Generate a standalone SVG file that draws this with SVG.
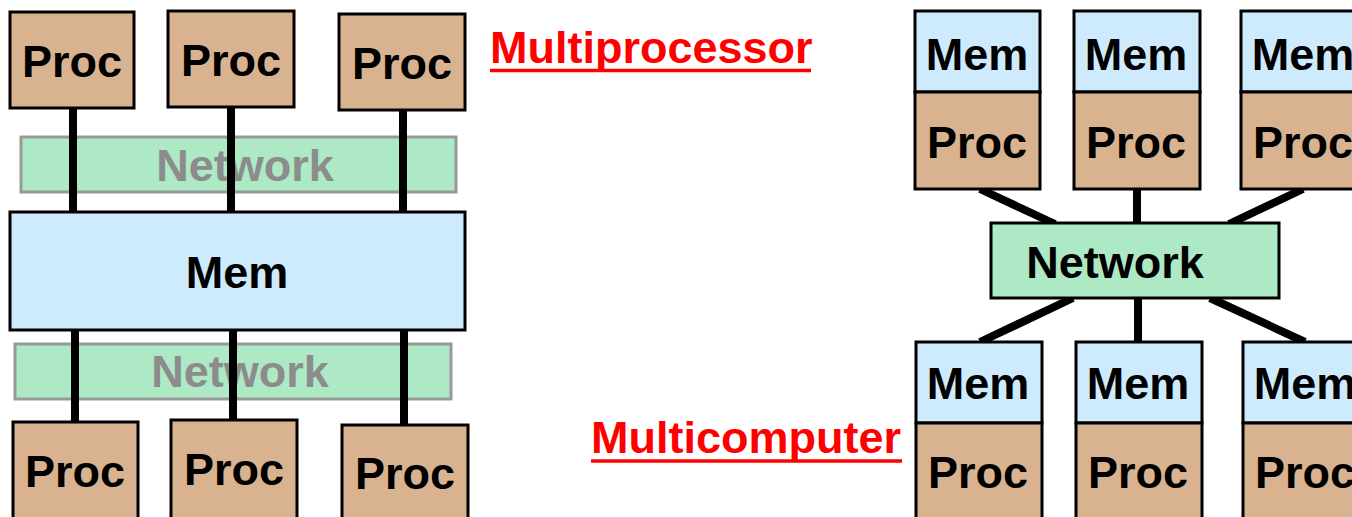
<svg xmlns="http://www.w3.org/2000/svg" width="1352" height="517" viewBox="0 0 1352 517">
  <style>
    .proc { fill: #d9b38f; stroke: #000; stroke-width: 3; }
    .mem { fill: #cdebfc; stroke: #000; stroke-width: 3; }
    .net { fill: #ade9c5; stroke: #000; stroke-width: 3; }
    .netfaint { fill: #ade9c5; stroke: #999; stroke-width: 3; }
    .lbl { font-family: "Liberation Sans", Arial, sans-serif; font-weight: bold; font-size: 45px; text-anchor: middle; fill: #000; }
    .faint { fill: #8c8c8c; }
    .title { font-family: "Liberation Sans", Arial, sans-serif; font-weight: bold; font-size: 45px; fill: #ff0000; }
    .wire { stroke: #000; stroke-width: 8; fill: none; }
    .uline { stroke: #ff0000; stroke-width: 3.5; }
  </style>

  <!-- Multiprocessor: shared memory between two networks -->
  <g id="mp-net-top">
    <rect class="netfaint" x="21" y="137" width="435" height="55"/>
    <text class="lbl faint" x="245" y="181">Network</text>
  </g>
  <g id="mp-net-bottom">
    <rect class="netfaint" x="15" y="344" width="436" height="55"/>
    <text class="lbl faint" x="240" y="387">Network</text>
  </g>

  <g id="connectors">
    <line class="wire" x1="73" y1="108" x2="73" y2="212"/>
    <line class="wire" x1="231" y1="107" x2="231" y2="212"/>
    <line class="wire" x1="403" y1="110" x2="403" y2="212"/>
    <line class="wire" x1="75" y1="330" x2="75" y2="422"/>
    <line class="wire" x1="233" y1="330" x2="233" y2="420"/>
    <line class="wire" x1="404" y1="330" x2="404" y2="425"/>
    <line class="wire" x1="980" y1="189" x2="1055" y2="224"/>
    <line class="wire" x1="1137" y1="190" x2="1137" y2="224"/>
    <line class="wire" x1="1303" y1="189" x2="1229" y2="224"/>
    <line class="wire" x1="1073" y1="298" x2="980" y2="342"/>
    <line class="wire" x1="1138" y1="298" x2="1138" y2="342"/>
    <line class="wire" x1="1210" y1="298" x2="1305" y2="342"/>
  </g>

  <g id="mp-proc-1">
    <rect class="proc" x="10" y="12" width="124" height="96"/>
    <text class="lbl" x="72" y="77">Proc</text>
  </g>
  <g id="mp-proc-2">
    <rect class="proc" x="168" y="11" width="126" height="96"/>
    <text class="lbl" x="231" y="76">Proc</text>
  </g>
  <g id="mp-proc-3">
    <rect class="proc" x="339" y="14" width="126" height="96"/>
    <text class="lbl" x="402" y="79">Proc</text>
  </g>

  <g id="mp-mem">
    <rect class="mem" x="10" y="212" width="455" height="118"/>
    <text class="lbl" x="237" y="288">Mem</text>
  </g>

  <g id="mp-proc-4">
    <rect class="proc" x="13" y="422" width="125" height="100"/>
    <text class="lbl" x="75" y="487">Proc</text>
  </g>
  <g id="mp-proc-5">
    <rect class="proc" x="171" y="420" width="126" height="102"/>
    <text class="lbl" x="234" y="485">Proc</text>
  </g>
  <g id="mp-proc-6">
    <rect class="proc" x="342" y="425" width="126" height="97"/>
    <text class="lbl" x="405" y="489">Proc</text>
  </g>

  <g id="title-multiprocessor">
    <text class="title" x="490" y="63">Multiprocessor</text>
    <line class="uline" x1="490" y1="70.5" x2="811" y2="70.5"/>
  </g>
  <g id="title-multicomputer">
    <text class="title" x="591" y="453">Multicomputer</text>
    <line class="uline" x1="591" y1="461" x2="902" y2="461"/>
  </g>

  <!-- Multicomputer: memory/processor nodes around one network -->
  <g id="mc-node-1">
    <rect class="mem" x="915" y="11" width="125" height="81"/>
    <rect class="proc" x="915" y="92" width="125" height="97"/>
    <text class="lbl" x="977" y="70">Mem</text>
    <text class="lbl" x="977" y="158">Proc</text>
  </g>
  <g id="mc-node-2">
    <rect class="mem" x="1074" y="11" width="126" height="81"/>
    <rect class="proc" x="1074" y="92" width="126" height="97"/>
    <text class="lbl" x="1136" y="70">Mem</text>
    <text class="lbl" x="1136" y="158">Proc</text>
  </g>
  <g id="mc-node-3">
    <rect class="mem" x="1241" y="11" width="126" height="81"/>
    <rect class="proc" x="1241" y="92" width="126" height="97"/>
    <text class="lbl" x="1303" y="70">Mem</text>
    <text class="lbl" x="1303" y="158">Proc</text>
  </g>

  <g id="mc-net">
    <rect class="net" x="991" y="223" width="288" height="75"/>
    <text class="lbl" x="1115" y="278">Network</text>
  </g>

  <g id="mc-node-4">
    <rect class="mem" x="916" y="342" width="126" height="81"/>
    <rect class="proc" x="916" y="423" width="126" height="100"/>
    <text class="lbl" x="978" y="399">Mem</text>
    <text class="lbl" x="978" y="488">Proc</text>
  </g>
  <g id="mc-node-5">
    <rect class="mem" x="1076" y="342" width="126" height="81"/>
    <rect class="proc" x="1076" y="423" width="126" height="100"/>
    <text class="lbl" x="1138" y="399">Mem</text>
    <text class="lbl" x="1138" y="488">Proc</text>
  </g>
  <g id="mc-node-6">
    <rect class="mem" x="1243" y="342" width="126" height="81"/>
    <rect class="proc" x="1243" y="423" width="126" height="100"/>
    <text class="lbl" x="1305" y="399">Mem</text>
    <text class="lbl" x="1305" y="488">Proc</text>
  </g>
</svg>
